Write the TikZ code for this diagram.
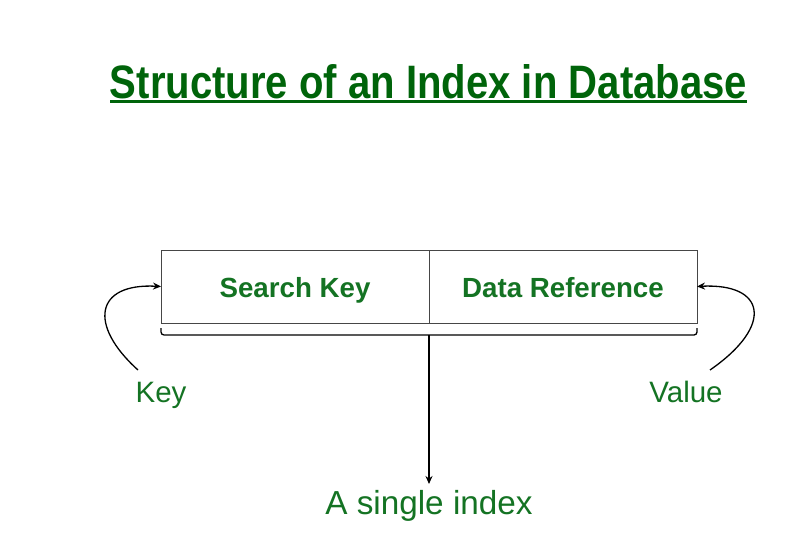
\documentclass[tikz,border=0pt]{standalone}
\usepackage{fontspec}
\setmainfont{Liberation Sans}
\usepackage{graphicx}
\usetikzlibrary{arrows.meta}
\definecolor{titlegreen}{RGB}{0,100,10}
\definecolor{txtgreen}{RGB}{20,115,35}
\definecolor{boxgray}{RGB}{70,70,70}
\begin{document}
\begin{tikzpicture}[x=1pt,y=-1pt,
  cell/.style={draw=boxgray,line width=1pt,minimum height=73pt,inner sep=0pt,outer sep=0pt},
  celltext/.style={font=\fontsize{27.7}{30}\selectfont\bfseries,text=txtgreen},
  lbl/.style={font=\fontsize{29.5}{32}\selectfont,text=txtgreen,anchor=base,inner sep=0pt},
  conn/.style={draw=black,line width=1.3pt,-{Stealth[length=8pt,width=7pt]}}]
\useasboundingbox (0,0) rectangle (804,538);
% title
\node[anchor=base,inner sep=0pt,text=titlegreen] (title) at (428.5,98)
  {\resizebox{637pt}{34pt}{\fontsize{48}{50}\selectfont\bfseries Structure of an Index in Database}};
\fill[titlegreen] (110,100) rectangle (747,103.2);
% box
\node[cell,minimum width=268pt,anchor=north west] (sk) at (161,250) {};
\node[cell,minimum width=268pt,anchor=north west] (dr) at (429,250) {};
\node[celltext,anchor=base,inner sep=0pt] (skt) at (295,297) {Search Key};
\node[celltext,anchor=base,inner sep=0pt] (drt) at (563,297) {Data Reference};
% bracket
\coordinate (bl) at (161,328);
\coordinate (br) at (697,328);
\coordinate (bm) at (429,335);
\coordinate (be) at (429,484);
\draw[black,line width=1.3pt,rounded corners=3pt] (bl) -- (161,335) -- (697,335) -- (br);
% labels
\node[lbl] (key) at (161,402) {Key};
\node[lbl] (val) at (686,402) {Value};
\node[lbl,font=\fontsize{33.3}{35}\selectfont] (idx) at (429,514) {A single index};
% arrows
\coordinate (ks) at (138,370);
\coordinate (vs) at (710,370);
\draw[conn] (ks) .. controls (88,325) and (95,283) .. (sk.west);
\draw[conn] (vs) .. controls (775,325) and (765,283) .. (dr.east);
\draw[conn] (bm) -- (be);
\end{tikzpicture}
\end{document}
